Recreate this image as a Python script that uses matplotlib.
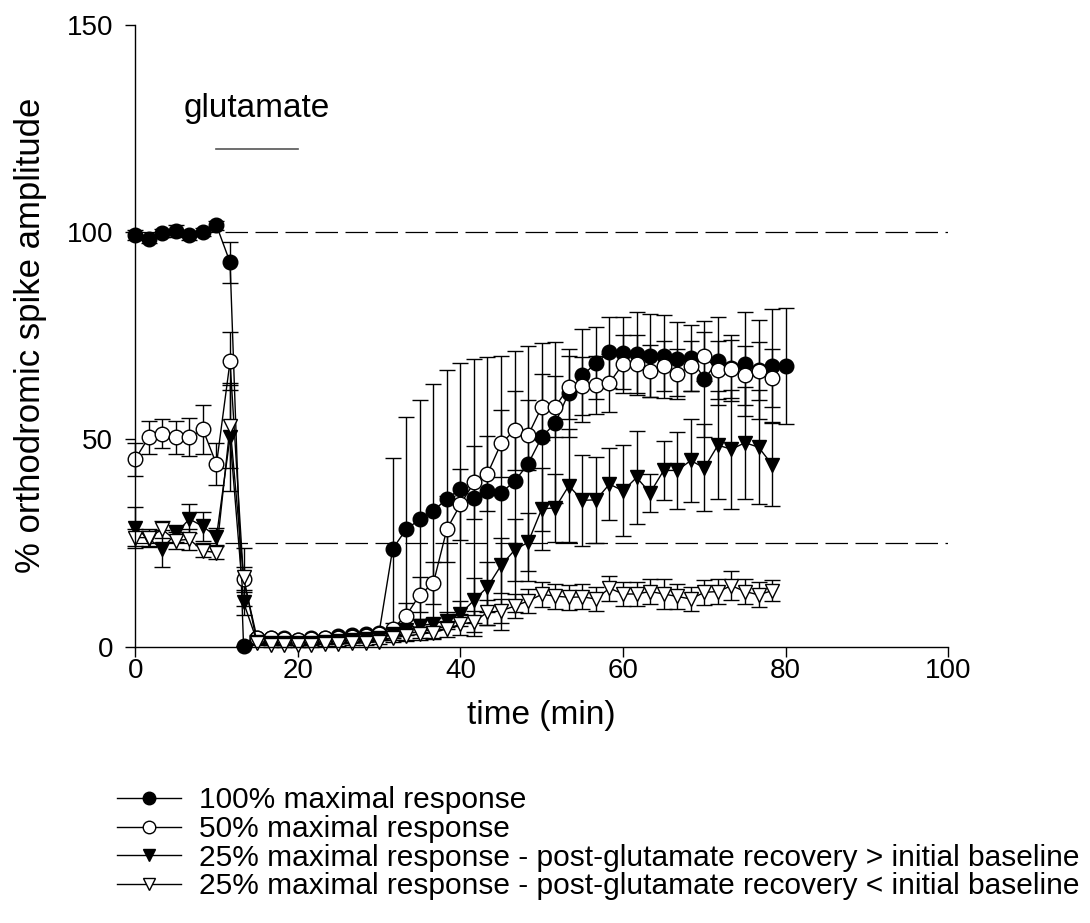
import numpy as np
from matplotlib import pyplot as plt
from matplotlib.lines import Line2D

plt.rcParams['font.family'] = ['Liberation Sans', 'DejaVu Sans']

# sample times (min), one point every ~1.67 min
time = [0, 1.67, 3.33, 5, 6.67, 8.33, 10, 11.67, 13.33, 15, 16.67, 18.33, 20,
        21.67, 23.33, 25, 26.67, 28.33, 30, 31.67, 33.33, 35, 36.67, 38.33, 40,
        41.67, 43.33, 45, 46.67, 48.33, 50, 51.67, 53.33, 55, 56.67, 58.33, 60,
        61.67, 63.33, 65, 66.67, 68.33, 70, 71.67, 73.33, 75, 76.67, 78.33, 80]

# 100% maximal response
resp100 = [99.4, 98.4, 99.8, 100.2, 99.2, 100.0, 101.6, 92.7, 0.2, 2.2,
           2.2, 2.0, 1.5, 2.0, 2.2, 2.5, 2.7, 3.0, 3.4, 23.6,
           28.3, 30.7, 32.7, 35.7, 38.0, 35.9, 37.5, 37.1, 39.9, 44.1,
           50.5, 54.0, 61.2, 65.4, 68.4, 71.0, 70.8, 70.6, 70.2, 70.0,
           69.4, 69.7, 64.6, 68.8, 67.2, 68.1, 66.8, 67.8, 67.6]
err100 = [1.2, 1.0, 1.0, 1.5, 1.0, 1.0, 1.0, 5.0, 0.0, 0.5,
          0.5, 0.5, 0.5, 0.5, 0.5, 0.5, 0.5, 0.5, 0.5, 22.0,
          27.0, 28.7, 30.6, 31.0, 30.4, 33.4, 32.3, 33.0, 31.5, 28.3,
          22.7, 19.4, 10.6, 11.2, 8.6, 8.6, 8.6, 10.0, 10.0, 10.0,
          9.0, 8.0, 14.0, 10.6, 8.0, 12.5, 12.0, 13.6, 14.0]

# 50% maximal response
resp50 = [45.2, 50.5, 51.3, 50.5, 50.5, 52.4, 44.0, 68.8, 16.3, 2.0,
          2.0, 1.8, 1.5, 1.8, 2.0, 2.2, 2.4, 2.6, 3.0, 4.3,
          7.5, 12.5, 15.3, 28.3, 34.3, 39.6, 41.7, 49.0, 52.2, 51.0,
          57.8, 57.9, 62.6, 62.8, 63.0, 63.6, 68.2, 68.2, 66.5, 67.6,
          65.8, 67.6, 70.0, 66.8, 67.0, 65.4, 66.4, 64.8]
err50 = [4.0, 4.0, 3.5, 4.0, 4.6, 6.0, 5.0, 7.0, 3.0, 0.5,
         0.5, 0.5, 0.5, 0.5, 0.5, 0.5, 0.5, 0.5, 0.5, 1.5,
         3.0, 4.2, 5.0, 8.0, 8.5, 8.7, 9.0, 8.0, 9.5, 8.4,
         8.0, 7.4, 7.6, 7.0, 7.0, 7.0, 7.0, 7.0, 6.3, 6.0,
         6.0, 6.0, 6.0, 7.0, 7.0, 7.0, 7.0, 7.0]

# 25% maximal response, recovery > initial baseline
resp25_hi = [28.7, 26.0, 23.6, 27.3, 30.8, 29.0, 26.5, 50.5, 10.7, 1.2,
             1.0, 1.0, 0.8, 1.0, 1.2, 1.4, 1.6, 1.8, 2.2, 3.0,
             3.9, 5.1, 5.5, 6.3, 7.9, 11.2, 14.4, 19.6, 23.3, 25.2,
             33.2, 33.5, 38.8, 35.3, 35.4, 39.2, 37.6, 40.8, 37.1, 42.5,
             42.5, 44.9, 43.1, 48.6, 47.6, 49.2, 48.1, 43.9]
err25_hi = [5.0, 2.0, 4.5, 2.0, 3.5, 3.5, 2.0, 13.0, 3.0, 0.5,
            0.5, 0.5, 0.5, 0.5, 0.5, 0.5, 0.5, 0.5, 0.5, 1.0,
            1.0, 1.5, 1.5, 2.0, 3.0, 5.4, 6.0, 6.6, 7.5, 7.0,
            10.0, 8.2, 13.6, 11.0, 10.3, 8.7, 11.0, 11.2, 4.6, 7.2,
            9.2, 10.0, 10.5, 13.0, 14.4, 13.5, 13.8, 10.0]

# 25% maximal response, recovery < initial baseline
resp25_lo = [26.3, 26.3, 28.3, 25.6, 25.9, 23.1, 22.7, 53.2, 16.7, 0.8,
             0.5, 0.5, 0.3, 0.5, 0.6, 0.6, 0.8, 0.9, 1.2, 2.1,
             2.6, 3.0, 3.4, 4.3, 5.4, 6.0, 8.3, 8.6, 9.8, 11.0,
             12.6, 12.2, 11.9, 12.0, 11.5, 14.1, 12.7, 12.7, 13.3, 12.7,
             12.1, 11.5, 13.1, 13.3, 14.7, 13.3, 12.5, 13.5]
err25_lo = [2.0, 2.0, 2.0, 2.0, 2.5, 1.5, 1.5, 10.0, 7.0, 0.5,
            0.5, 0.5, 0.5, 0.5, 0.5, 0.5, 0.5, 0.5, 0.5, 1.0,
            1.0, 1.5, 1.5, 2.0, 2.5, 2.5, 3.0, 3.0, 3.0, 3.0,
            3.0, 3.0, 3.0, 3.0, 3.0, 3.0, 3.0, 3.0, 3.0, 3.5,
            3.0, 3.0, 3.0, 3.0, 3.5, 3.0, 3.0, 2.5]

labels = ["100% maximal response",
          "50% maximal response",
          "25% maximal response - post-glutamate recovery > initial baseline",
          "25% maximal response - post-glutamate recovery < initial baseline"]

fig = plt.figure(figsize=(10.9, 9.23), dpi=100)
ax = fig.add_axes([0.124, 0.2994, 0.746, 0.6738])

# reference levels
ax.axhline(100, color='k', lw=0.9, dashes=(18, 6), zorder=1)
ax.axhline(25, color='k', lw=0.9, dashes=(18, 6), zorder=1)

series = [(resp100, err100, 'o', 'k'),
          (resp50, err50, 'o', 'w'),
          (resp25_hi, err25_hi, 'v', 'k'),
          (resp25_lo, err25_lo, 'v', 'w')]

handles = []
for vals, errs, mk, fc in series:
    n = len(vals)
    cont = ax.errorbar(time[:n], vals, yerr=errs, fmt='-', marker=mk, color='k',
                       mfc=fc, mec='k', mew=1.0, ms=10.5, lw=1.0,
                       ecolor='k', elinewidth=1.0, capsize=6, capthick=1.0)
    for art in [cont[0], *cont[1], *cont[2]]:
        art.set_clip_on(False)
    handles.append(Line2D([], [], color='k', lw=1.0, marker=mk, mfc=fc,
                          mec='k', mew=1.0, ms=9))

# glutamate application bar
ax.plot([10, 20], [120, 120], color='#555555', lw=1.2)
ax.text(15, 126, "glutamate", ha='center', va='bottom', fontsize=24)

ax.set_xlim(0, 100)
ax.set_ylim(0, 150)
ax.set_xticks([0, 20, 40, 60, 80, 100])
ax.set_yticks([0, 50, 100, 150])
ax.tick_params(labelsize=20, direction='out', length=7, width=1)
ax.tick_params(axis='x', pad=1)
ax.tick_params(axis='y', pad=9)
ax.spines['top'].set_visible(False)
ax.spines['right'].set_visible(False)
ax.spines['left'].set_linewidth(1.0)
ax.spines['bottom'].set_linewidth(1.0)
ax.set_xlabel("time (min)", fontsize=24, labelpad=12)
ax.set_ylabel("% orthodromic spike amplitude", fontsize=25, labelpad=14)

fig.legend(handles, labels, loc='upper left', bbox_to_anchor=(0.107, 0.148),
           frameon=False, fontsize=21.5, handlelength=2.15, handletextpad=0.6,
           labelspacing=0.02, borderaxespad=0, borderpad=0)

fig.savefig("out.png", dpi=100)
